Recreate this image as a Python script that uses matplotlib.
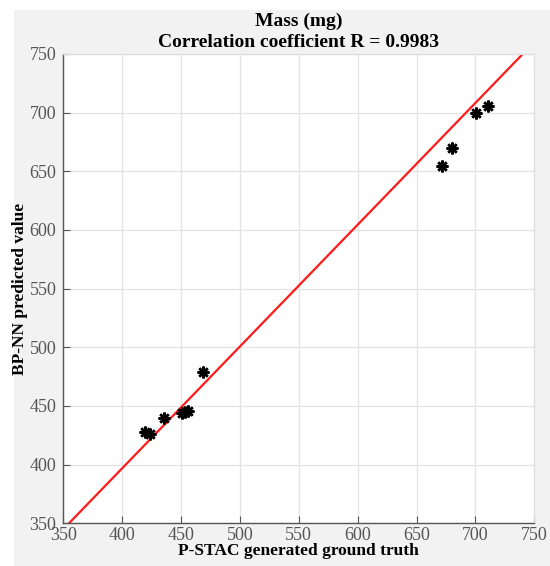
import numpy as np
import matplotlib.pyplot as plt
from matplotlib.patches import Rectangle

# Daten
ground_truth = [710.9, 700.5, 679.8, 671.4, 468.9, 453.4, 450.6, 456.2, 435.8, 419.4, 423.6]
predicted = [705.8, 699.3, 670.2, 654.6, 479.2, 445.1, 444.3, 446.0, 440.0, 428.1, 426.1]
fit_slope = 1.038
fit_intercept = -18.3
ticks = [350, 400, 450, 500, 550, 600, 650, 700, 750]

plt.rcParams['font.family'] = ['Liberation Serif', 'DejaVu Serif']

fig = plt.figure(figsize=(5.5, 5.66), dpi=100, facecolor='white')
# grauer Hintergrund wie im MATLAB-Fenster
fig.patches.append(Rectangle((14 / 550, 0), 1, 1 - 10 / 566, transform=fig.transFigure,
                             facecolor='#f2f2f2', edgecolor='none', zorder=-10))

ax = fig.add_axes([63.3 / 550, (566 - 523.3) / 566, 471 / 550, 469.3 / 566])
ax.set_facecolor('white')

line_x = np.array([350, 750])
ax.plot(line_x, fit_slope * line_x + fit_intercept, color='#ff1a1a', lw=1.6, zorder=2)
ax.plot(ground_truth, predicted, linestyle='none', marker=(8, 2, 0), markersize=8.5,
        markeredgewidth=1.8, color='black', zorder=3)

ax.set_xlim(350, 750)
ax.set_ylim(350, 750)
ax.set_xticks(ticks)
ax.set_yticks(ticks)
ax.grid(True, color='#e3e3e3', lw=0.9)
ax.set_axisbelow(True)

ax.tick_params(direction='in', length=5, colors='#555555', labelsize=13,
               labelcolor='#555555', top=False, right=False)
ax.tick_params(axis='x', pad=3)
ax.tick_params(axis='y', pad=5)
for s in ['left', 'bottom']:
    ax.spines[s].set_color('#555555')
    ax.spines[s].set_linewidth(1.0)
for s in ['top', 'right']:
    ax.spines[s].set_color('#dddddd')
    ax.spines[s].set_linewidth(0.9)

ax.set_title('Mass (mg)\nCorrelation coefficient R = 0.9983', fontsize=14,
             fontweight='bold', linespacing=1.3, pad=5)
ax.set_xlabel('P-STAC generated ground truth', fontsize=12.5, fontweight='bold', labelpad=-1)
ax.set_ylabel('BP-NN predicted value', fontsize=12.5, fontweight='bold', labelpad=1)

fig.savefig('out.png', dpi=100, facecolor=fig.get_facecolor())
